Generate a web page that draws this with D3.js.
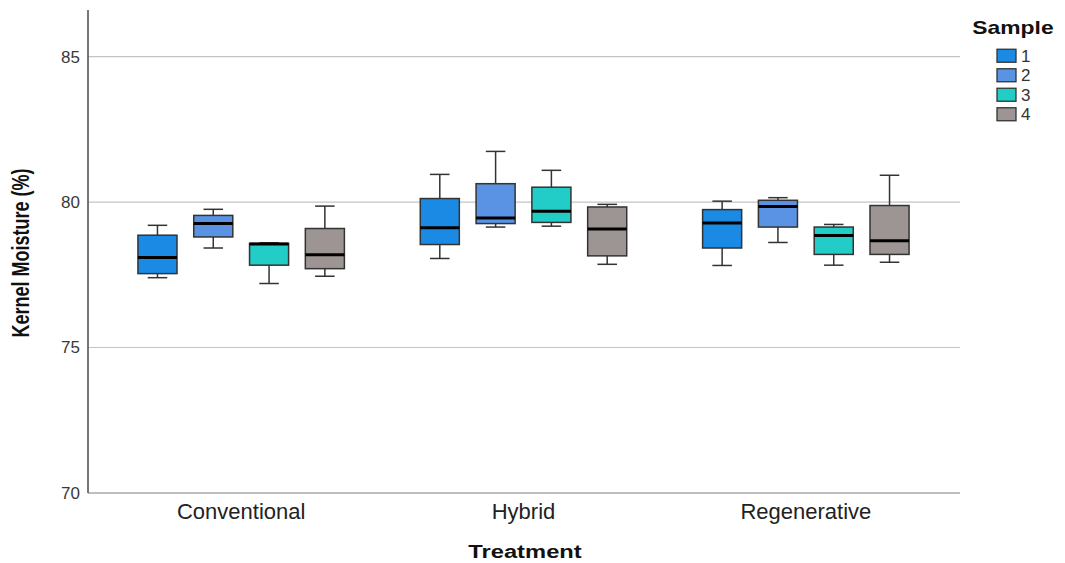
<!DOCTYPE html>
<html>
<head>
<meta charset="utf-8">
<script src="https://cdn.jsdelivr.net/npm/d3@7"></script>
<style>
  body { margin: 0; background: #fff; }
  text { font-family: "Liberation Sans", Arial, sans-serif; }
</style>
</head>
<body>
<div id="chart"></div>
<script>
const treatments = ["Conventional", "Hybrid", "Regenerative"];
const samples = ["1", "2", "3", "4"];
const sampleColors = ["#1a8ae4", "#5a93e3", "#22cdc7", "#9d9593"];
const yTicks = [70, 75, 80, 85];

// one row per treatment, one value per sample
const whiskerLow = [
  [77.40, 78.42, 77.20, 77.45],
  [78.06, 79.14, 79.17, 77.86],
  [77.82, 78.61, 77.83, 77.93]
];
const q1 = [
  [77.54, 78.80, 77.83, 77.71],
  [78.54, 79.26, 79.30, 78.15],
  [78.42, 79.14, 78.20, 78.20]
];
const median = [
  [78.09, 79.26, 78.56, 78.19],
  [79.12, 79.45, 79.68, 79.07],
  [79.28, 79.85, 78.85, 78.67]
];
const q3 = [
  [78.86, 79.54, 78.58, 79.09],
  [80.12, 80.63, 80.51, 79.83],
  [79.74, 80.06, 79.14, 79.88]
];
const whiskerHigh = [
  [79.20, 79.75, 78.60, 79.86],
  [80.95, 81.74, 81.09, 79.92],
  [80.03, 80.15, 79.23, 80.92]
];

const width = 1065;
const height = 563;
const plot = { left: 88, right: 960, top: 10, bottom: 493 };

const svg = d3
  .select("#chart")
  .append("svg")
  .attr("width", width)
  .attr("height", height);

const x = d3.scaleBand().domain(treatments).range([100, 947]).padding(0);
const xInner = d3
  .scaleBand()
  .domain(samples)
  .range([0, x.bandwidth()])
  .paddingInner(0.3)
  .paddingOuter(0.68);
const y = d3.scaleLinear().domain([70, 86.6]).range([plot.bottom, plot.top]);
const color = d3.scaleOrdinal().domain(samples).range(sampleColors);

// grid lines
svg
  .append("g")
  .selectAll("line")
  .data(yTicks.filter((t) => t > 70))
  .enter()
  .append("line")
  .attr("x1", plot.left)
  .attr("x2", plot.right)
  .attr("y1", (d) => y(d))
  .attr("y2", (d) => y(d))
  .attr("stroke", "#c4c4c4")
  .attr("stroke-width", 1.2);

// Axes
const yAxis = svg
  .append("g")
  .attr("transform", `translate(${plot.left}, 0)`)
  .call(d3.axisLeft(y).tickValues(yTicks).tickSize(0).tickPadding(8));
yAxis.select(".domain").remove();
yAxis
  .selectAll("text")
  .attr("font-size", 17)
  .attr("fill", "#3a3a3a")
  .attr("font-family", "Liberation Sans, Arial, sans-serif");

svg
  .append("line")
  .attr("x1", plot.left)
  .attr("x2", plot.right)
  .attr("y1", plot.bottom)
  .attr("y2", plot.bottom)
  .attr("stroke", "#a8a8a8")
  .attr("stroke-width", 1.6);

svg
  .append("line")
  .attr("x1", plot.left)
  .attr("x2", plot.left)
  .attr("y1", plot.top)
  .attr("y2", plot.bottom)
  .attr("stroke", "#555")
  .attr("stroke-width", 1.6);

const xAxis = svg
  .append("g")
  .attr("transform", `translate(0, ${plot.bottom})`)
  .call(d3.axisBottom(x).tickSize(0).tickPadding(10));
xAxis.select(".domain").remove();
xAxis
  .selectAll("text")
  .attr("font-size", 22)
  .attr("fill", "#222")
  .attr("font-family", "Liberation Sans, Arial, sans-serif");

// boxes
const boxes = [];
treatments.forEach((t, i) => {
  samples.forEach((s, j) => {
    boxes.push({
      treatment: t,
      sample: s,
      lo: whiskerLow[i][j],
      q1: q1[i][j],
      med: median[i][j],
      q3: q3[i][j],
      hi: whiskerHigh[i][j]
    });
  });
});

const bw = xInner.bandwidth();
const g = svg
  .append("g")
  .selectAll("g")
  .data(boxes)
  .enter()
  .append("g")
  .attr("transform", (d) => `translate(${x(d.treatment) + xInner(d.sample)}, 0)`);

// whiskers
g.append("line")
  .attr("x1", bw / 2)
  .attr("x2", bw / 2)
  .attr("y1", (d) => y(d.hi))
  .attr("y2", (d) => y(d.lo))
  .attr("stroke", "#333")
  .attr("stroke-width", 1.5);
g.selectAll(".cap")
  .data((d) => [d.lo, d.hi])
  .enter()
  .append("line")
  .attr("class", "cap")
  .attr("x1", bw / 4)
  .attr("x2", (bw * 3) / 4)
  .attr("y1", (v) => y(v))
  .attr("y2", (v) => y(v))
  .attr("stroke", "#333")
  .attr("stroke-width", 1.5);

g.append("rect")
  .attr("x", 0)
  .attr("width", bw)
  .attr("y", (d) => y(d.q3))
  .attr("height", (d) => y(d.q1) - y(d.q3))
  .attr("fill", (d) => color(d.sample))
  .attr("stroke", "#333")
  .attr("stroke-width", 1.5);

g.append("line")
  .attr("x1", 0)
  .attr("x2", bw)
  .attr("y1", (d) => y(d.med))
  .attr("y2", (d) => y(d.med))
  .attr("stroke", "#000")
  .attr("stroke-width", 3);

// axis titles
svg
  .append("text")
  .attr("transform", "translate(29, 253) scale(1.3, 1) rotate(-90)")
  .attr("text-anchor", "middle")
  .attr("font-size", 18)
  .attr("font-weight", "bold")
  .attr("fill", "#111")
  .text("Kernel Moisture (%)");

svg
  .append("text")
  .attr("transform", "translate(525, 558) scale(1.32, 1)")
  .attr("text-anchor", "middle")
  .attr("font-size", 18)
  .attr("font-weight", "bold")
  .attr("fill", "#111")
  .text("Treatment");

// legend
const legend = svg.append("g");
legend
  .append("text")
  .attr("transform", "translate(1013, 34) scale(1.27, 1)")
  .attr("text-anchor", "middle")
  .attr("font-size", 18)
  .attr("font-weight", "bold")
  .attr("fill", "#111")
  .text("Sample");

const ly = d3.scaleBand().domain(samples).range([46, 124]);
const item = legend
  .selectAll(".item")
  .data(samples)
  .enter()
  .append("g")
  .attr("class", "item")
  .attr("transform", (d) => `translate(997, ${ly(d) + ly.bandwidth() / 2})`);
item
  .append("rect")
  .attr("x", 0)
  .attr("y", -6.5)
  .attr("width", 19)
  .attr("height", 13)
  .attr("fill", (d) => color(d))
  .attr("stroke", "#333")
  .attr("stroke-width", 1.3);
item
  .append("text")
  .attr("x", 24)
  .attr("y", 0)
  .attr("dy", "0.36em")
  .attr("font-size", 17)
  .attr("fill", "#333")
  .text((d) => d);
</script>
</body>
</html>
